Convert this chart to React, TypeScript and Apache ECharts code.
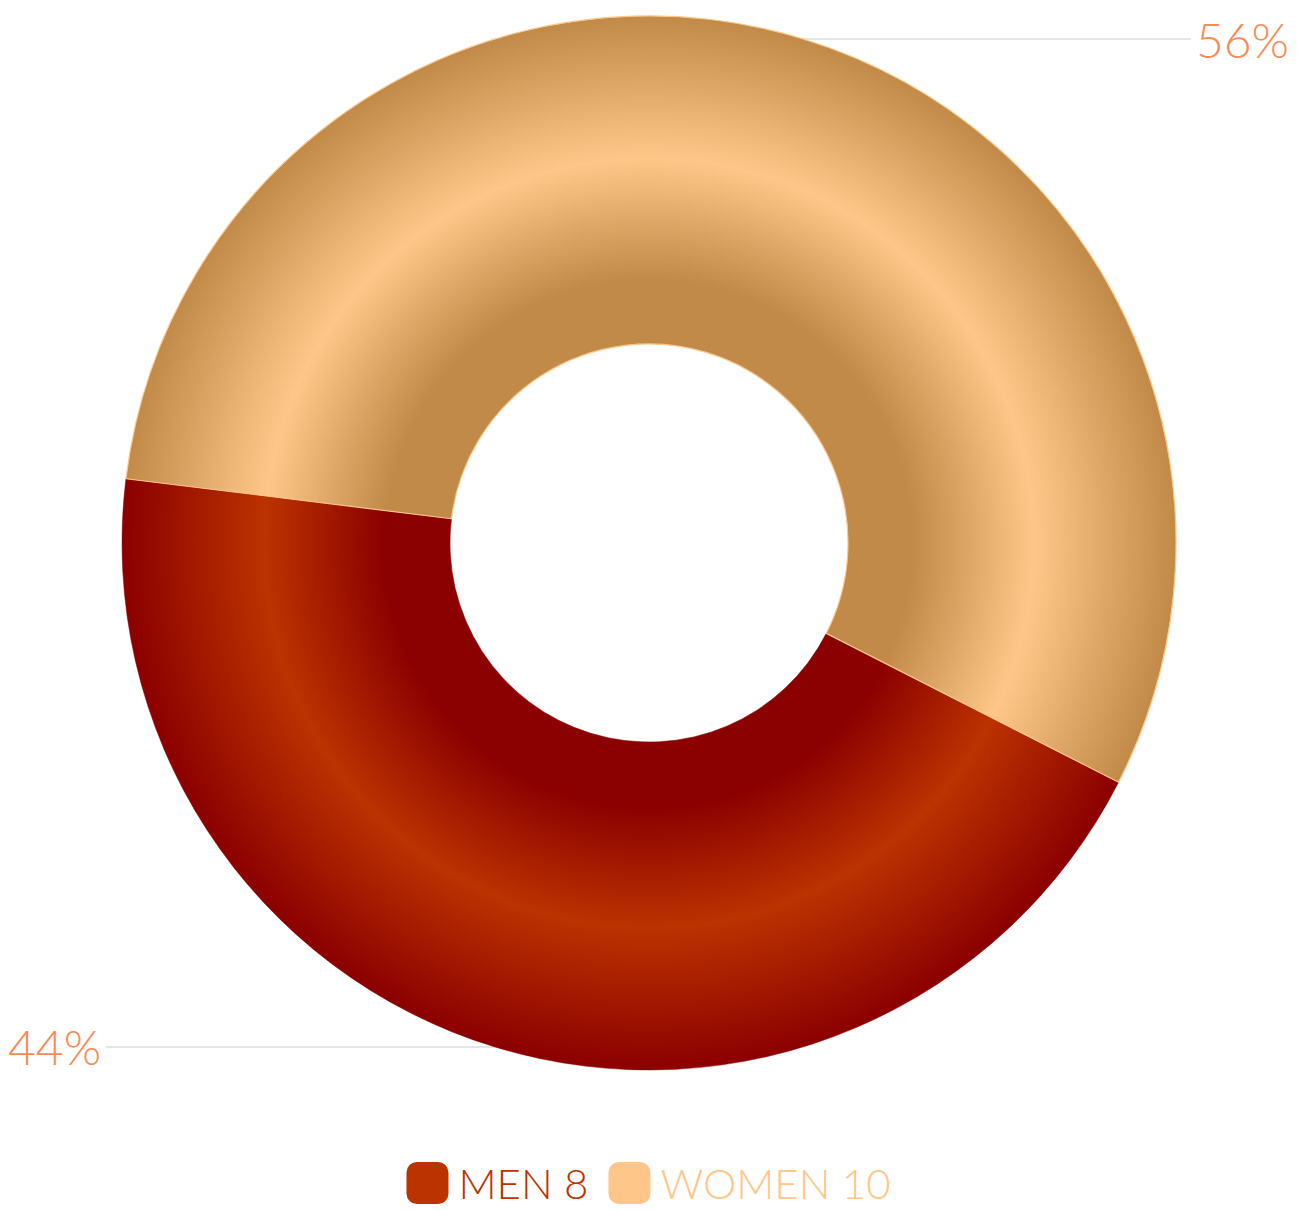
import React, { useEffect, useRef } from "react";
import * as echarts from "echarts";

const categories = ["MEN", "WOMEN"];
const values = [8, 10];
const darkColors = ["#8b0000", "#c28a48"];
const lightColors = ["#bb3300", "#fec688"];
const legendColors = ["#bb3300", "#fec688"];

export default function App() {
  const ref = useRef<HTMLDivElement>(null);
  useEffect(() => {
    document.body.style.margin = "0";
    const chart = echarts.init(ref.current!, null, { renderer: "svg" });
    const cx = 649;
    const cy = 543;
    const rOut = 527;
    const rIn = 199;
    const grad = (i: number) =>
      new echarts.graphic.RadialGradient(
        cx,
        cy,
        rOut,
        [
          { offset: 0, color: darkColors[i] },
          { offset: 0.5, color: darkColors[i] },
          { offset: 0.73, color: lightColors[i] },
          { offset: 1, color: darkColors[i] },
        ],
        true
      );
    const data = categories.map((name, i) => ({
      name,
      value: values[i],
      itemStyle: {
        color: grad(i),
        borderColor: i === 1 ? "#fec688" : "#8b0000",
        borderWidth: i === 1 ? 1.2 : 0.5,
      },
    }));
    chart.setOption({
      animation: false,
      legend: {
        top: 1157,
        left: "center",
        padding: 5,
        icon: "roundRect",
        itemWidth: 42,
        itemHeight: 42,
        itemGap: 20,
        itemStyle: { borderWidth: 0 },
        data: categories.map((name, i) => ({
          name,
          itemStyle: { color: legendColors[i], borderWidth: 0 },
          textStyle: { color: legendColors[i] },
        })),
        formatter: (name: string) => name + " " + values[categories.indexOf(name)],
        textStyle: {
          fontFamily: "Lato",
          fontWeight: 300,
          fontSize: 42,
          lineHeight: 42,
          padding: [0, 0, 0, 5],
        },
      },
      series: [
        {
          type: "pie",
          center: [cx, cy],
          radius: [rIn, rOut],
          startAngle: -27,
          clockwise: true,
          data,
          label: {
            show: true,
            formatter: (p: any) => Math.round(p.percent) + "%",
            alignTo: "edge",
            edgeDistance: 8,
            color: "#f88a55",
            fontFamily: "Lato",
            fontWeight: 300,
            fontSize: 48,
            padding: [8, 0, 0, 0],
          },
          labelLine: {
            show: true,
            length: 0,
            length2: 10,
            lineStyle: { color: "#e6e6e6", width: 2 },
          },
          emphasis: { disabled: true },
        },
      ],
    });
    return () => chart.dispose();
  }, []);
  return <div ref={ref} style={{ width: 1297, height: 1211 }} />;
}
